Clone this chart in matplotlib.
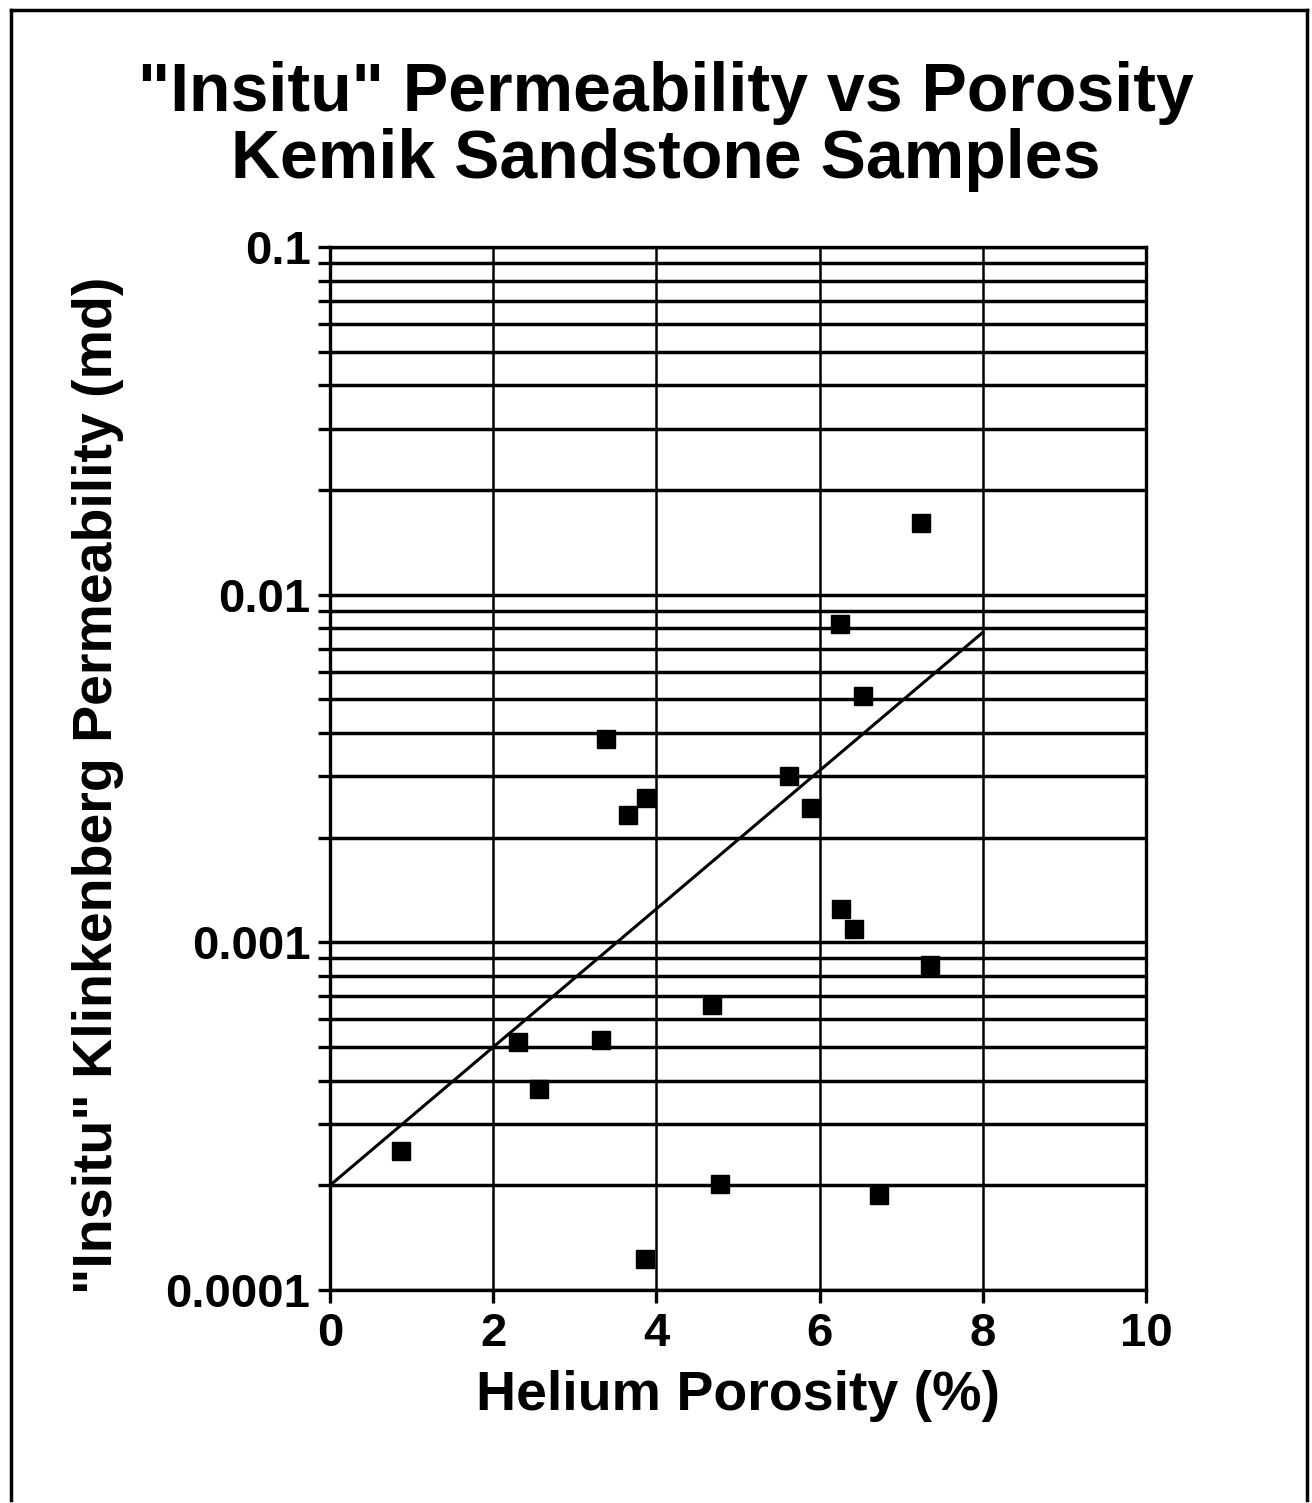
import matplotlib
matplotlib.use("Agg")
import matplotlib.pyplot as plt
from matplotlib.lines import Line2D
from matplotlib.ticker import LogLocator, NullFormatter
import numpy as np

# Data
porosity = [0.87, 2.30, 2.56, 3.32, 3.38, 3.65, 3.87, 3.86, 4.68, 4.78,
            5.62, 5.89, 6.25, 6.53, 6.26, 6.42, 7.24, 7.35, 6.73]
permeability = [0.000251, 0.000517, 0.000379, 0.000524, 0.00385, 0.00232,
                0.00260, 0.000123, 0.00066, 0.000202, 0.00301, 0.00243,
                0.00823, 0.00511, 0.00125, 0.00109, 0.0161, 0.00086, 0.000187]
fit_x = [0.0, 8.0]
fit_y = [0.000200, 0.00779]
x_ticks = [0, 2, 4, 6, 8, 10]
y_ticks = [0.0001, 0.001, 0.01, 0.1]
y_ticklabels = ["0.0001", "0.001", "0.01", "0.1"]

plt.rcParams['font.family'] = ['Liberation Sans', 'DejaVu Sans']

fig = plt.figure(figsize=(13.12, 15.03), dpi=100)
ax = fig.add_axes([330/1312, 1 - 1290/1503, (1146-330)/1312, (1290-247)/1503])

ax.set_yscale('log')
ax.set_xlim(0, 10)
ax.set_ylim(0.0001, 0.1)

ax.set_xticks(x_ticks)
ax.set_xticklabels([str(t) for t in x_ticks], fontsize=34, fontweight='bold')
ax.set_yticks(y_ticks)
ax.set_yticklabels(y_ticklabels, fontsize=34, fontweight='bold')
ax.yaxis.set_minor_locator(LogLocator(base=10, subs=np.arange(2, 10), numticks=20))
ax.yaxis.set_minor_formatter(NullFormatter())

ax.tick_params(axis='both', which='both', direction='out', length=9, width=2.4, color='black', pad=5)
ax.tick_params(axis='x', which='major', pad=7)

ax.grid(True, which='major', axis='x', color='black', linewidth=1.8)
ax.grid(True, which='both', axis='y', color='black', linewidth=2.5)

for s in ax.spines.values():
    s.set_linewidth(2.4)

ax.plot(fit_x, fit_y, color='black', linewidth=2.2, zorder=3)
ax.plot(porosity, permeability, linestyle='none', marker='s', markersize=13,
        color='black', zorder=4)

ax.set_xlabel("Helium Porosity (%)", fontsize=40, fontweight='bold', labelpad=10)
ax.set_ylabel('"Insitu" Klinkenberg Permeability (md)', fontsize=40, fontweight='bold')
ax.yaxis.set_label_coords(-0.252, 0.484)

fig.text(666/1312, 1 - 93/1503, '"Insitu" Permeability vs Porosity', ha='center', va='center',
         fontsize=49, fontweight='bold')
fig.text(666/1312, 1 - 160/1503, 'Kemik Sandstone Samples', ha='center', va='center',
         fontsize=49, fontweight='bold')

# outer frame
fr = dict(color='black', linewidth=2.5, transform=fig.transFigure)
fig.add_artist(Line2D([11/1312, 1307/1312], [1 - 10/1503, 1 - 10/1503], **fr))
fig.add_artist(Line2D([11/1312, 11/1312], [1 - 10/1503, 1 - 1500/1503], **fr))
fig.add_artist(Line2D([1307/1312, 1307/1312], [1 - 10/1503, 1 - 1500/1503], **fr))

fig.savefig("out.png", dpi=100, facecolor='white')
